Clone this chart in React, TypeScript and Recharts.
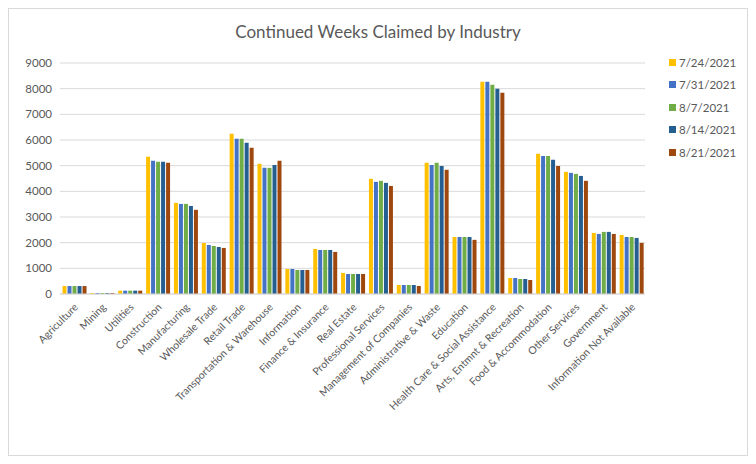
import React from 'react';
import { BarChart, Bar, XAxis, YAxis, CartesianGrid, Legend } from 'recharts';

const industries: string[] = [
  'Agriculture', 'Mining', 'Utilities', 'Construction', 'Manufacturing', 'Wholesale Trade',
  'Retail Trade', 'Transportation & Warehouse', 'Information', 'Finance & Insurance',
  'Real Estate', 'Professional Services', 'Management of Companies', 'Administrative & Waste',
  'Education', 'Health Care & Social Assistance', 'Arts, Entmnt & Recreation',
  'Food & Accommodation', 'Other Services', 'Government', 'Information Not Available',
];

const week0724 = [310, 40, 130, 5345, 3550, 1990, 6240, 5070, 975, 1755, 820, 4490, 350, 5110, 2220, 8270, 624, 5460, 4760, 2380, 2300];
const week0731 = [310, 40, 130, 5190, 3510, 1910, 6050, 4915, 975, 1716, 780, 4370, 350, 5030, 2220, 8270, 624, 5380, 4720, 2340, 2220];
const week0807 = [310, 40, 130, 5150, 3510, 1870, 6050, 4915, 936, 1716, 780, 4410, 350, 5110, 2220, 8150, 585, 5380, 4680, 2420, 2220];
const week0814 = [310, 40, 130, 5150, 3430, 1830, 5890, 5030, 936, 1716, 780, 4330, 350, 4990, 2220, 8000, 585, 5230, 4600, 2420, 2185];
const week0821 = [310, 40, 130, 5110, 3280, 1795, 5700, 5190, 936, 1640, 780, 4210, 312, 4840, 2110, 7840, 546, 4990, 4410, 2340, 1990];

const yTicks = [0, 1000, 2000, 3000, 4000, 5000, 6000, 7000, 8000, 9000];

const series = [
  { key: '7/24/2021', values: week0724, color: '#FFC000' },
  { key: '7/31/2021', values: week0731, color: '#4472C4' },
  { key: '8/7/2021', values: week0807, color: '#70AD47' },
  { key: '8/14/2021', values: week0814, color: '#255E91' },
  { key: '8/21/2021', values: week0821, color: '#9E480E' },
];

const data = industries.map((name, i) => {
  const row: Record<string, string | number> = { name };
  series.forEach((s) => { row[s.key] = s.values[i]; });
  return row;
});

const FONT = 'Lato, "Open Sans", sans-serif';

const AngledTick = (props: any) => {
  const { x, y, payload } = props;
  return (
    <g transform={`translate(${x + 2},${y + 3})`}>
      <text
        transform="rotate(-45)"
        textAnchor="end"
        dy={4}
        fontSize={10.5}
        fill="#595959"
        fontFamily={FONT}
      >
        {payload.value}
      </text>
    </g>
  );
};

const LegendContent = () => (
  <div style={{ fontFamily: FONT, fontSize: 11.5, color: '#595959' }}>
    {series.map((s) => (
      <div key={s.key} style={{ display: 'flex', alignItems: 'center', height: 22.5 }}>
        <span style={{ width: 7, height: 7, background: s.color, marginRight: 3, display: 'inline-block' }} />
        {s.key}
      </div>
    ))}
  </div>
);

const App: React.FC = () => {
  return (
    <div
      style={{
        position: 'relative',
        width: 738,
        height: 446,
        border: '1px solid #D9D9D9',
        background: '#fff',
      }}
    >
      <div
        style={{
          position: 'absolute',
          top: 12,
          left: 0,
          width: 738,
          textAlign: 'center',
          fontFamily: FONT,
          fontSize: 17,
          color: '#595959',
        }}
      >
        Continued Weeks Claimed by Industry
      </div>
      <BarChart
        width={738}
        height={446}
        data={data}
        margin={{ top: 54, right: 22, left: 6, bottom: 11 }}
        barCategoryGap="9%"
        barGap={1}
      >
        <CartesianGrid vertical={false} stroke="#D9D9D9" />
        <XAxis
          dataKey="name"
          interval={0}
          height={150}
          tick={<AngledTick />}
          tickLine={false}
          axisLine={{ stroke: '#D9D9D9' }}
        />
        <YAxis
          width={45}
          domain={[0, 9000]}
          ticks={yTicks}
          tickLine={false}
          axisLine={false}
          tick={{ fontSize: 11.5, fill: '#595959', fontFamily: FONT }}
        />
        <Legend
          layout="vertical"
          align="right"
          verticalAlign="top"
          content={<LegendContent />}
          wrapperStyle={{ position: 'absolute', left: 660, top: 42, width: 80 }}
        />
        {series.map((s) => (
          <Bar key={s.key} dataKey={s.key} fill={s.color} isAnimationActive={false} />
        ))}
      </BarChart>
    </div>
  );
};

export default App;
